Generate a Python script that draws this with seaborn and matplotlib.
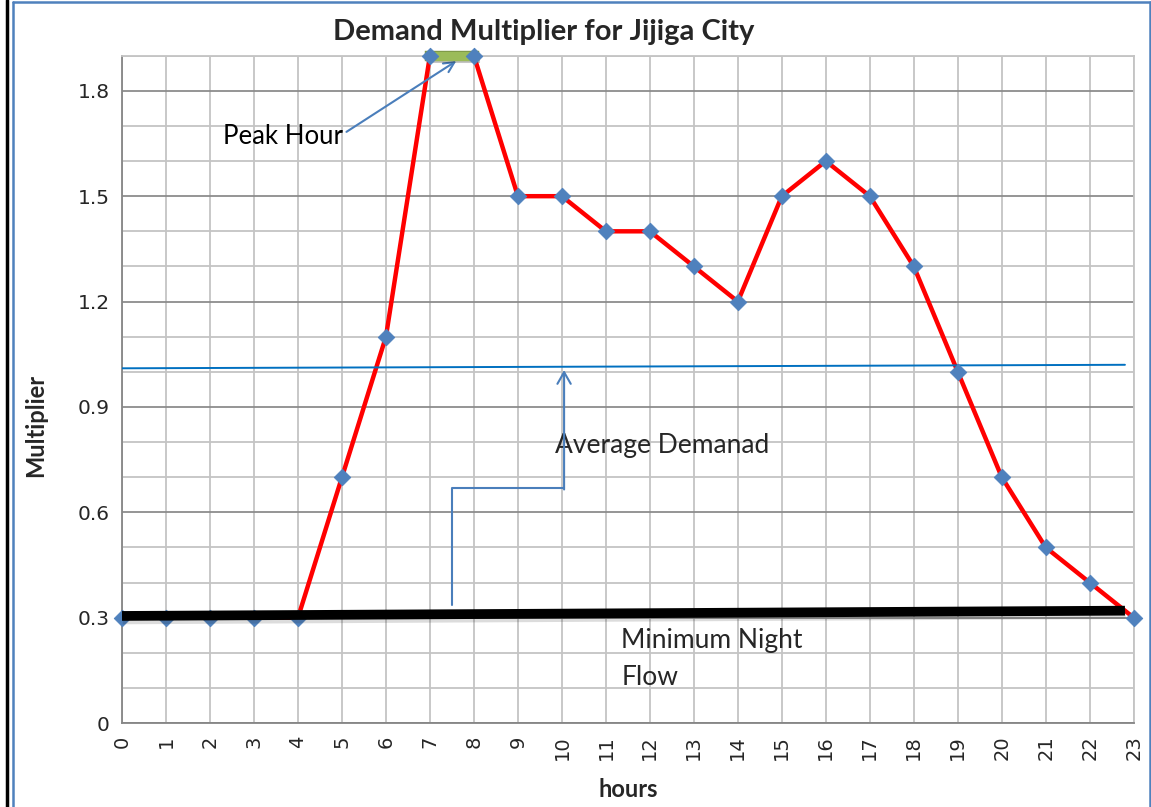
"""
Demand multiplier chart for Jijiga City
"""

import numpy as np
import pandas as pd
import matplotlib
matplotlib.use('Agg')
import matplotlib.pyplot as plt
import matplotlib.patheffects as pe
from matplotlib.lines import Line2D
from matplotlib.ticker import MultipleLocator
import seaborn as sns

# hourly data
hours = list(range(24))
multiplier = [0.3, 0.3, 0.3, 0.3, 0.3, 0.7, 1.1, 1.9, 1.9, 1.5, 1.5, 1.4,
              1.4, 1.3, 1.2, 1.5, 1.6, 1.5, 1.3, 1.0, 0.7, 0.5, 0.4, 0.3]

# hand drawn reference lines (start/end hour, start/end value)
avg_x = [0, 22.8]
avg_y = [1.01, 1.02]
min_x = [0, 22.8]
min_y = [0.305, 0.32]
peak_x = [7, 8]
peak_y = [1.9, 1.9]

y_ticks = [0, 0.3, 0.6, 0.9, 1.2, 1.5, 1.8]
y_labels = ['0', '0.3', '0.6', '0.9', '1.2', '1.5', '1.8']

sns.set_theme(style='white')
plt.rcParams['font.family'] = ['Lato', 'DejaVu Sans']

df = pd.DataFrame({'hours': hours, 'Multiplier': multiplier})

fig = plt.figure(figsize=(11.51, 8.07), dpi=100)
ax = fig.add_axes([0.106, 0.104, 0.879, 0.827])

# grid: minor every 0.1, major every 0.3, vertical every hour
ax.set_xlim(0, 23)
ax.set_ylim(0, 1.9)
ax.xaxis.set_major_locator(MultipleLocator(1))
ax.yaxis.set_major_locator(MultipleLocator(0.3))
ax.yaxis.set_minor_locator(MultipleLocator(0.1))
ax.grid(True, which='major', axis='y', color='#8c8c8c', lw=1.3)
ax.grid(True, which='minor', axis='y', color='#c4c4c4', lw=1.3)
ax.grid(True, which='major', axis='x', color='#c4c4c4', lw=1.3)
ax.set_axisbelow(True)
for side in ['top', 'right']:
    ax.spines[side].set_color('#c4c4c4')
    ax.spines[side].set_linewidth(1.3)
for side in ['left', 'bottom']:
    ax.spines[side].set_color('#868686')
    ax.spines[side].set_linewidth(1.3)

sns.lineplot(data=df, x='hours', y='Multiplier', color='red', lw=3.2,
             ax=ax, clip_on=False, zorder=3)

ax.plot(avg_x, avg_y, color='#0070c0', lw=1.4, zorder=4)
ax.plot(peak_x, peak_y, color='#9bbb59', lw=6.5, zorder=3.5,
        path_effects=[pe.SimpleLineShadow(offset=(0.5, -2), alpha=0.25),
                      pe.Stroke(linewidth=7.5, foreground='#7f9a48'),
                      pe.Normal()],
        clip_on=False, solid_capstyle='projecting')

sns.scatterplot(data=df, x='hours', y='Multiplier', marker='D', s=70,
                color='#4f81bd', edgecolor='#4f81bd', ax=ax, clip_on=False,
                zorder=5)

# minimum night flow bar sits over the markers
ax.plot(min_x, min_y, color='black', lw=7, zorder=6,
        path_effects=[pe.SimpleLineShadow(offset=(0.5, -2.5), alpha=0.15),
                      pe.Normal()],
        solid_capstyle='butt')

# annotations
ax.annotate('Peak Hour', xy=(7.6, 1.885), xytext=(2.3, 1.67),
            fontsize=18.5, va='center', ha='left', color='black',
            arrowprops=dict(arrowstyle='->', color='#4a7ebb', lw=1.5,
                            shrinkA=0, shrinkB=0,
                            relpos=(1.0, 0.6)))
ax.text(9.85, 0.79, 'Average Demanad', fontsize=19, va='center', ha='left')
ax.plot([7.5, 7.5, 10.05], [0.335, 0.67, 0.67], color='#4a7ebb', lw=1.5,
        zorder=4)
ax.annotate('', xy=(10.05, 1.005), xytext=(10.05, 0.665),
            arrowprops=dict(arrowstyle='->,head_length=0.7,head_width=0.4',
                            color='#4a7ebb', lw=1.5, shrinkA=0, shrinkB=0))
ax.text(11.35, 0.272, 'Minimum Night\nFlow', fontsize=19, va='top',
        ha='left', linespacing=1.6)

ax.set_xticks(hours)
ax.set_xticklabels([str(h) for h in hours], rotation=90,
                   fontfamily='DejaVu Sans', fontsize=14)
ax.set_yticks(y_ticks)
ax.set_yticklabels(y_labels, fontfamily='DejaVu Sans', fontsize=14.5)
ax.tick_params(axis='x', length=0, pad=9)
ax.tick_params(axis='y', length=0, pad=9)

ax.set_xlabel('')
ax.set_ylabel('')
fig.text(0.546, 0.022, 'hours', fontsize=17, fontweight='bold',
         ha='center', va='center')
fig.text(0.031, 0.473, 'Multiplier', fontsize=17, fontweight='bold',
         ha='center', va='center', rotation=90)
fig.text(0.472, 0.960, 'Demand Multiplier for Jijiga City', fontsize=21,
         fontweight='bold', ha='center', va='center')

# page border
fig.add_artist(Line2D([0.006, 0.006], [0, 1], color='black', lw=2.5))
fig.add_artist(Line2D([0.011, 0.011], [0, 0.997], color='#4f81bd', lw=1.8))
fig.add_artist(Line2D([0.011, 0.999], [0.997, 0.997], color='#4f81bd', lw=1.8))
fig.add_artist(Line2D([0.999, 0.999], [0, 0.997], color='#4f81bd', lw=1.8))

fig.savefig('out.png', dpi=100)
